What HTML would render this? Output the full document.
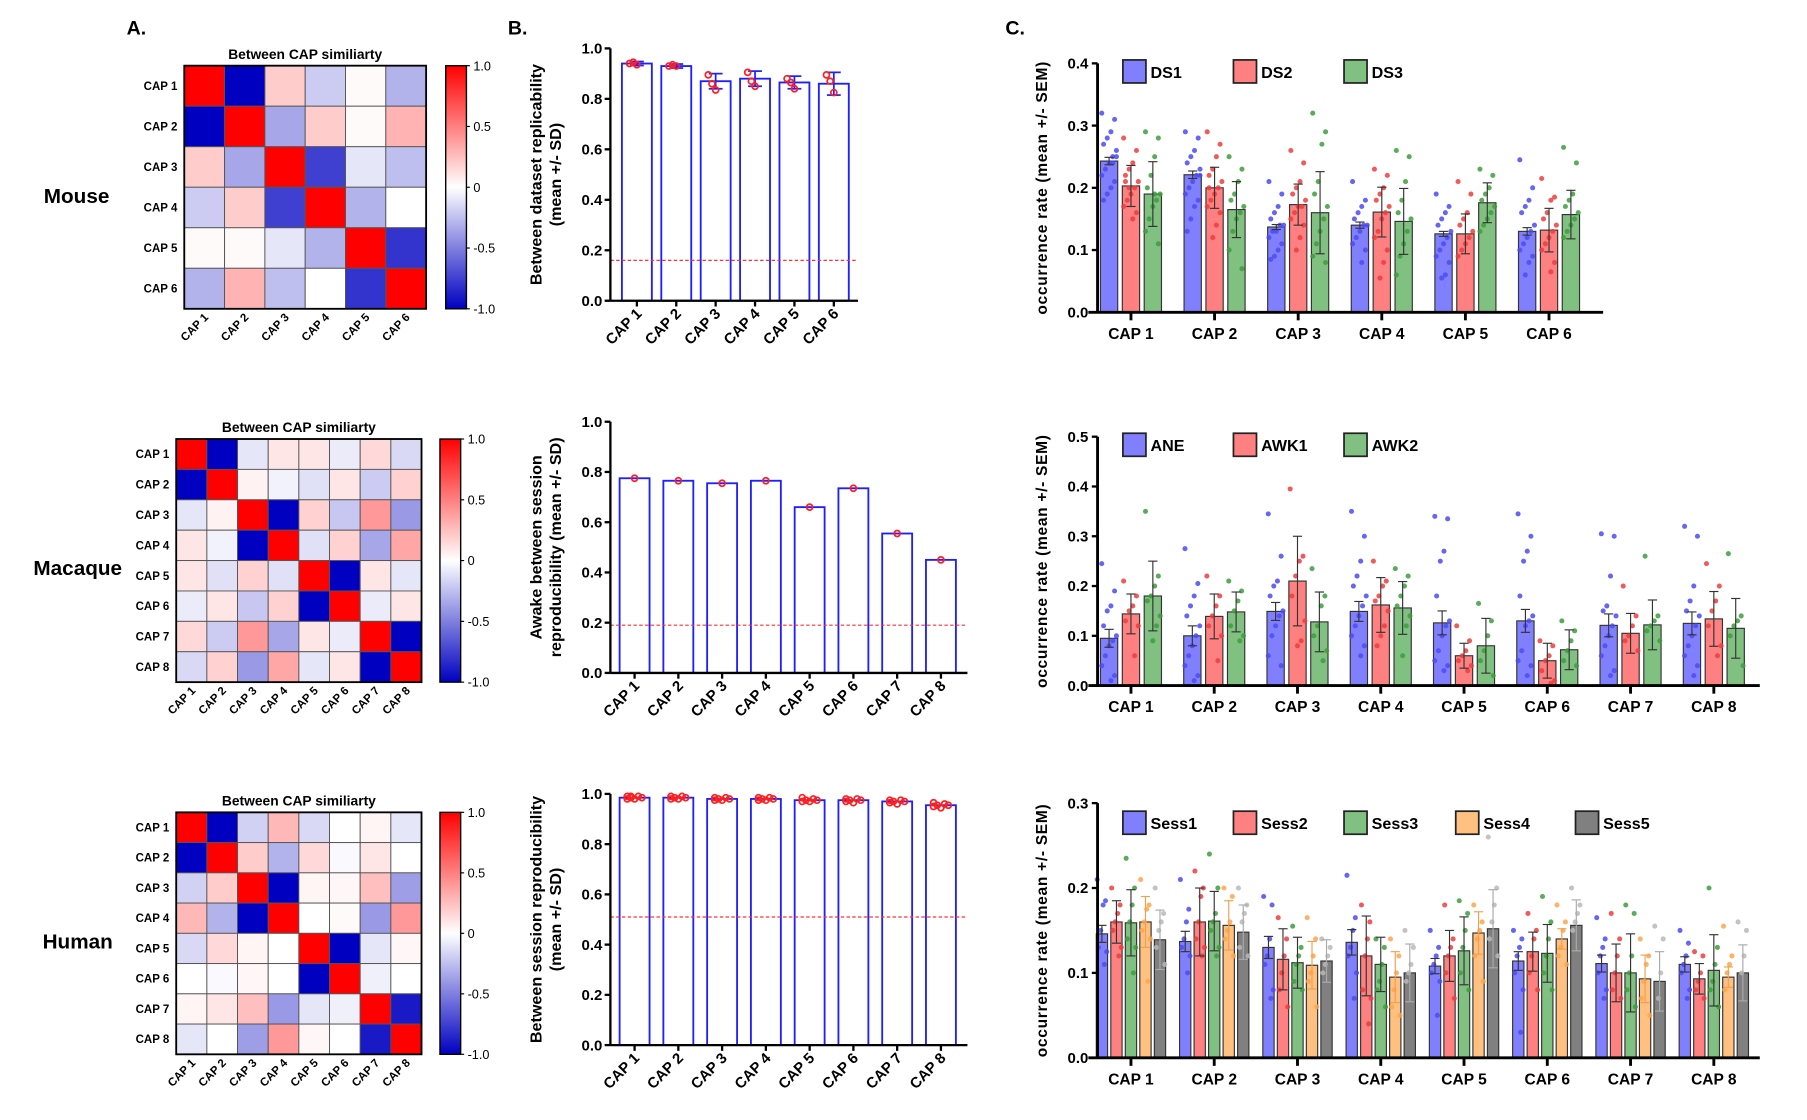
<!DOCTYPE html>
<html><head><meta charset="utf-8"><style>
html,body{margin:0;padding:0;background:#fff;}
svg{display:block;font-family:"Liberation Sans",Arial,sans-serif;font-weight:bold;}
</style></head><body>
<svg id="fig" width="1807" height="1120" viewBox="0 0 1569 972" preserveAspectRatio="none" xmlns="http://www.w3.org/2000/svg">
<text x="110" y="30" font-size="17">A.</text>
<text x="441" y="30" font-size="17">B.</text>
<text x="873" y="30" font-size="17">C.</text>
<text x="38" y="176" font-size="18">Mouse</text>
<text x="29" y="499" font-size="18">Macaque</text>
<text x="37" y="823" font-size="18">Human</text>
</svg>
<script>
// ---------- Heatmap data ----------
const capLabels6 = ["CAP 1","CAP 2","CAP 3","CAP 4","CAP 5","CAP 6"];
const capLabels8 = ["CAP 1","CAP 2","CAP 3","CAP 4","CAP 5","CAP 6","CAP 7","CAP 8"];
const mouseSim = [
 [1,-1,0.2,-0.2,0.02,-0.3],
 [-1,1,-0.35,0.2,0.02,0.3],
 [0.2,-0.35,1,-0.75,-0.1,-0.25],
 [-0.2,0.2,-0.75,1,-0.3,0],
 [0.02,0.02,-0.1,-0.3,1,-0.8],
 [-0.3,0.3,-0.25,0,-0.8,1]];
const macaqueSim = [
 [1,-1,-0.1,0.1,0.1,-0.08,0.15,-0.15],
 [-1,1,0.05,-0.05,-0.12,0.1,-0.2,0.18],
 [-0.1,0.05,1,-1,0.18,-0.22,0.4,-0.4],
 [0.1,-0.05,-1,1,-0.12,0.18,-0.35,0.35],
 [0.1,-0.12,0.18,-0.12,1,-1,0.1,-0.1],
 [-0.08,0.1,-0.22,0.18,-1,1,-0.08,0.1],
 [0.15,-0.2,0.4,-0.35,0.1,-0.08,1,-1],
 [-0.15,0.18,-0.4,0.35,-0.1,0.1,-1,1]];
const humanSim = [
 [1,-1,-0.18,0.28,-0.15,0,0.04,-0.1],
 [-1,1,0.2,-0.3,0.15,-0.02,0.1,0],
 [-0.18,0.2,1,-1,0.04,0.03,0.25,-0.38],
 [0.28,-0.3,-1,1,0,0.02,-0.4,0.4],
 [-0.15,0.15,0.04,0,1,-1,-0.1,0.03],
 [0,-0.02,0.03,0,-1,1,-0.06,0],
 [0.04,0.1,0.25,-0.4,-0.1,-0.06,1,-0.9],
 [-0.1,0,-0.38,0.4,0.03,0,-0.9,1]];
const cbTicks = [1,0.5,0,-0.5,-1];
const cbTickLabels = ["1.0","0.5","0","-0.5","-1.0"];

// ---------- Panel B data ----------
const bRow1Vals = [0.94,0.93,0.87,0.88,0.865,0.86];
const bRow1Sd = [0.008,0.008,0.03,0.03,0.025,0.045];
const bRow1Pts = [[0.94,0.945,0.935],[0.93,0.935,0.93],[0.895,0.86,0.835],[0.905,0.87,0.85],[0.88,0.865,0.84],[0.895,0.87,0.825]];
const bRow1Ref = 0.16;
const bRow2Vals = [0.775,0.765,0.755,0.765,0.66,0.735,0.555,0.45];
const bRow2Pts = [[0.775],[0.765],[0.755],[0.765],[0.66],[0.735],[0.555],[0.45]];
const bRow2Ref = 0.19;
const bRow3Vals = [0.985,0.985,0.98,0.98,0.975,0.975,0.97,0.955];
const bRow3Pts = [[0.99,0.985,0.98,0.99,0.985,0.98,0.99],[0.99,0.985,0.98,0.99,0.985,0.98],[0.985,0.98,0.975,0.985,0.98,0.975],[0.985,0.98,0.975,0.985,0.98,0.975],[0.985,0.975,0.97,0.98,0.975,0.97],[0.98,0.975,0.965,0.98,0.975,0.97],[0.975,0.97,0.96,0.975,0.97,0.965],[0.965,0.955,0.945,0.96,0.955,0.95]];
const bRow3Ref = 0.51;
const bTicks = [0,0.2,0.4,0.6,0.8,1.0];
const bTickLabels = ["0.0","0.2","0.4","0.6","0.8","1.0"];

// ---------- Panel C data ----------
const c1Series = ["DS1","DS2","DS3"];
const c1Means = [[0.243,0.221,0.137,0.14,0.126,0.13],[0.203,0.2,0.173,0.161,0.126,0.132],[0.19,0.165,0.16,0.146,0.176,0.157]];
const c1Err = [[0.006,0.006,0.004,0.005,0.004,0.006],[0.033,0.033,0.033,0.04,0.032,0.035],[0.052,0.045,0.066,0.053,0.032,0.039]];
const c1Dots = [
 [[0.32,0.31,0.29,0.28,0.27,0.26,0.25,0.24,0.23,0.22,0.21,0.2,0.19,0.18,0.25,0.24],[0.29,0.28,0.26,0.25,0.24,0.23,0.22,0.21,0.2,0.19,0.18,0.17,0.15,0.13,0.22],[0.21,0.19,0.17,0.16,0.15,0.14,0.14,0.13,0.13,0.12,0.11,0.1,0.09,0.085],[0.21,0.18,0.17,0.16,0.15,0.14,0.14,0.13,0.12,0.11,0.1,0.08],[0.19,0.17,0.16,0.15,0.14,0.13,0.12,0.11,0.1,0.09,0.08,0.06,0.055],[0.245,0.2,0.18,0.17,0.16,0.14,0.13,0.12,0.11,0.1,0.09,0.08,0.06]],
 [[0.28,0.26,0.24,0.23,0.22,0.21,0.2,0.19,0.18,0.17,0.16,0.15,0.2,0.21],[0.29,0.27,0.25,0.23,0.22,0.21,0.2,0.19,0.18,0.17,0.16,0.14,0.12,0.2],[0.26,0.24,0.21,0.2,0.19,0.18,0.17,0.17,0.16,0.15,0.14,0.12,0.1],[0.23,0.22,0.2,0.19,0.18,0.17,0.16,0.15,0.13,0.12,0.1,0.08,0.055],[0.21,0.19,0.16,0.15,0.14,0.13,0.12,0.11,0.1,0.09],[0.215,0.185,0.18,0.16,0.15,0.14,0.13,0.12,0.11,0.1,0.08,0.065]],
 [[0.29,0.28,0.25,0.22,0.2,0.19,0.18,0.17,0.15,0.13,0.11,0.19],[0.25,0.23,0.21,0.19,0.18,0.17,0.16,0.15,0.13,0.1,0.07],[0.32,0.29,0.27,0.21,0.19,0.17,0.15,0.13,0.11,0.09,0.08],[0.26,0.25,0.21,0.18,0.16,0.15,0.13,0.11,0.09,0.06],[0.23,0.22,0.2,0.19,0.18,0.17,0.16,0.15,0.14,0.13],[0.265,0.24,0.19,0.18,0.17,0.16,0.15,0.14,0.13,0.12]]];
const c1Ticks = [0,0.1,0.2,0.3,0.4];
const c1TickLabels = ["0.0","0.1","0.2","0.3","0.4"];

const c2Series = ["ANE","AWK1","AWK2"];
const c2Means = [[0.095,0.1,0.149,0.149,0.126,0.13,0.121,0.125],[0.144,0.139,0.21,0.162,0.06,0.05,0.105,0.134],[0.18,0.148,0.128,0.156,0.08,0.072,0.122,0.115]];
const c2Err = [[0.018,0.02,0.018,0.02,0.024,0.023,0.023,0.023],[0.04,0.045,0.09,0.055,0.025,0.035,0.04,0.055],[0.07,0.04,0.06,0.053,0.055,0.04,0.05,0.06]];
const c2Dots = [
 [[0.245,0.19,0.16,0.15,0.12,0.1,0.09,0.08,0.06,0.04,0.02,0.01],[0.275,0.205,0.18,0.16,0.14,0.12,0.1,0.08,0.06,0.04,0.02,0.01],[0.345,0.26,0.21,0.2,0.18,0.15,0.14,0.12,0.1,0.06,0.04],[0.35,0.3,0.25,0.22,0.2,0.18,0.16,0.14,0.12,0.1,0.08,0.06],[0.34,0.335,0.27,0.25,0.18,0.13,0.12,0.1,0.07,0.05,0.04,0.03],[0.345,0.3,0.27,0.25,0.18,0.14,0.13,0.12,0.07,0.05,0.04,0.02],[0.305,0.3,0.22,0.16,0.15,0.14,0.12,0.1,0.08,0.06,0.03,0.02],[0.32,0.3,0.2,0.17,0.15,0.14,0.12,0.1,0.08,0.06,0.04,0.02]],
 [[0.21,0.18,0.16,0.15,0.13,0.12,0.06],[0.22,0.18,0.16,0.14,0.12,0.1,0.05],[0.395,0.26,0.25,0.22,0.18,0.13,0.09,0.08],[0.25,0.21,0.2,0.18,0.17,0.15,0.12,0.1,0.08],[0.12,0.09,0.07,0.06,0.05,0.04,0.03],[0.09,0.08,0.06,0.05,0.03,0.01,0.005],[0.2,0.14,0.12,0.1,0.09,0.07],[0.245,0.2,0.17,0.15,0.12,0.08,0.06]],
 [[0.35,0.22,0.2,0.18,0.17,0.14,0.12,0.09],[0.21,0.19,0.17,0.15,0.12,0.1,0.09],[0.235,0.18,0.16,0.12,0.1,0.07,0.05],[0.235,0.22,0.2,0.18,0.16,0.14,0.12,0.06],[0.165,0.13,0.1,0.07,0.05,0.02],[0.13,0.11,0.09,0.07,0.05,0.04],[0.26,0.14,0.13,0.12,0.11,0.09],[0.265,0.14,0.13,0.12,0.1,0.04]]];
const c2Ticks = [0,0.1,0.2,0.3,0.4,0.5];
const c2TickLabels = ["0.0","0.1","0.2","0.3","0.4","0.5"];

const c3Series = ["Sess1","Sess2","Sess3","Sess4","Sess5"];
const c3Means = [[0.146,0.137,0.13,0.136,0.108,0.114,0.111,0.11],[0.16,0.16,0.116,0.12,0.12,0.125,0.1,0.093],[0.159,0.161,0.112,0.11,0.126,0.123,0.1,0.103],[0.16,0.156,0.109,0.095,0.147,0.14,0.093,0.095],[0.139,0.148,0.114,0.1,0.152,0.156,0.09,0.1]];
const c3Err = [[0.01,0.012,0.013,0.015,0.009,0.011,0.01,0.009],[0.025,0.04,0.036,0.047,0.03,0.023,0.034,0.018],[0.039,0.035,0.03,0.032,0.04,0.034,0.046,0.042],[0.03,0.029,0.028,0.03,0.025,0.012,0.028,0.012],[0.035,0.032,0.025,0.034,0.046,0.03,0.035,0.033]];
const c3Dots = [
 [[0.21,0.185,0.18,0.15,0.13,0.125,0.11],[0.21,0.175,0.16,0.14,0.13,0.12,0.1],[0.19,0.18,0.14,0.12,0.11,0.08,0.07],[0.215,0.165,0.15,0.13,0.12,0.1,0.07],[0.15,0.13,0.12,0.11,0.1,0.09,0.05],[0.15,0.14,0.13,0.12,0.1,0.08,0.03],[0.165,0.14,0.13,0.12,0.1,0.08,0.07],[0.15,0.135,0.12,0.11,0.1,0.08,0.07]],
 [[0.2,0.18,0.17,0.16,0.15,0.13,0.12],[0.22,0.2,0.19,0.16,0.14,0.13,0.12],[0.165,0.14,0.12,0.1,0.08,0.06],[0.18,0.16,0.14,0.12,0.08,0.07,0.04],[0.18,0.14,0.13,0.12,0.1,0.07],[0.17,0.15,0.14,0.12,0.1,0.08],[0.17,0.14,0.12,0.1,0.08,0.07],[0.125,0.12,0.1,0.09,0.08,0.07]],
 [[0.235,0.2,0.18,0.16,0.14,0.13,0.1],[0.24,0.2,0.17,0.16,0.15,0.13,0.12],[0.155,0.13,0.12,0.11,0.09,0.08],[0.14,0.13,0.11,0.09,0.08,0.06],[0.185,0.17,0.15,0.13,0.1,0.08],[0.19,0.16,0.14,0.12,0.1,0.08],[0.18,0.17,0.12,0.1,0.08,0.06],[0.2,0.13,0.11,0.09,0.08,0.06]],
 [[0.21,0.18,0.175,0.16,0.15,0.14,0.09],[0.2,0.19,0.16,0.15,0.14,0.12],[0.165,0.14,0.12,0.1,0.09,0.06],[0.14,0.12,0.1,0.08,0.06,0.05],[0.18,0.16,0.15,0.14,0.12,0.09],[0.18,0.16,0.15,0.13,0.12,0.11],[0.14,0.12,0.11,0.09,0.07,0.05],[0.155,0.12,0.11,0.1,0.08]],
 [[0.2,0.17,0.16,0.15,0.13,0.11],[0.2,0.18,0.17,0.16,0.13,0.12],[0.14,0.13,0.12,0.11,0.1],[0.15,0.13,0.11,0.1,0.09],[0.26,0.2,0.18,0.16,0.14,0.12],[0.2,0.18,0.17,0.16,0.15],[0.155,0.14,0.1,0.07],[0.16,0.15,0.12,0.1]]];
const c3Ticks = [0,0.1,0.2,0.3];
const c3TickLabels = ["0.0","0.1","0.2","0.3"];

const seriesFill = ["#8080ff","#ff8080","#80c080","#ffc080","#808080"];
const seriesDot = ["#4b4bf5","#f03c3c","#3c9e3c","#ffa44a","#b8b8b8"];

// ---------- helpers ----------
const NS = "http://www.w3.org/2000/svg";
const fig = document.getElementById("fig");
function mk(tag, attrs, parent){
  const e = document.createElementNS(NS, tag);
  for (const k in attrs) e.setAttribute(k, attrs[k]);
  (parent||fig).appendChild(e);
  return e;
}
function txt(x,y,s,size,anchor,parent){
  const t = mk("text",{x:x,y:y,"font-size":size,"text-anchor":anchor||"start"},parent);
  t.textContent = s;
  return t;
}
function simColor(v){
  if (v>=0){ const f=1-v; return `rgb(255,${Math.round(255*f)},${Math.round(255*f)})`; }
  const f=1+v; return `rgb(${Math.round(255*f)},${Math.round(255*f)},${Math.round(192+63*f)})`;
}

// ---------- Heatmap ----------
function heatmap(x0,y0,x1,y1,labels,mat,cbx,fs,name){
  const g = mk("g",{});
  
  
  const n = labels.length, cw=(x1-x0)/n, ch=(y1-y0)/n;
  const title = txt((x0+x1)/2, y0-6, "Between CAP similiarty", 12, "middle", g);
  
  
  for (let r=0;r<n;r++) for (let c=0;c<n;c++){
    const cell = mk("rect",{x:x0+c*cw,y:y0+r*ch,width:cw,height:ch,fill:simColor(mat[r][c]),stroke:"#555","stroke-width":0.8},g);
    
    
  }
  mk("rect",{x:x0,y:y0,width:x1-x0,height:y1-y0,fill:"none",stroke:"#000","stroke-width":1.6},g);
  for (let i=0;i<n;i++){
    const rl = txt(x0-6, y0+(i+0.5)*ch+3.5, labels[i], fs, "end", g);
    
    
    const cx = x0+(i+0.5)*cw+4, cy = y1+8;
    const cl = txt(cx, cy, labels[i], fs, "end", g);
    cl.setAttribute("transform", `rotate(-45 ${cx} ${cy})`);
    
    
  }
  const gid = "grad"+name;
  const defs = mk("defs",{},g);
  const lg = mk("linearGradient",{id:gid,x1:0,y1:0,x2:0,y2:1},defs);
  mk("stop",{offset:"0%","stop-color":simColor(1)},lg);
  mk("stop",{offset:"50%","stop-color":simColor(0)},lg);
  mk("stop",{offset:"100%","stop-color":simColor(-1)},lg);
  const cb = mk("rect",{x:cbx,y:y0,width:18,height:y1-y0,fill:`url(#${gid})`,stroke:"#000","stroke-width":1.2},g);
  
  
  cbTicks.forEach((v,i)=>{
    const y = y0+(1-v)/2*(y1-y0);
    mk("line",{x1:cbx+18,x2:cbx+21,y1:y,y2:y,stroke:"#000","stroke-width":1},g);
    const tl = txt(cbx+24, y+4, cbTickLabels[i], 11, "start", g);
    tl.setAttribute("font-weight","normal");
    
    
  });
}
heatmap(160,57,370,268,capLabels6,mouseSim,387,10,"mouse-heatmap");
heatmap(153,381,366,592,capLabels8,macaqueSim,382,10,"macaque-heatmap");
heatmap(153,705,366,915,capLabels8,humanSim,382,10,"human-heatmap");

// ---------- Panel B ----------
function chartB(yTop,yBot,x0,step,xEnd,vals,sd,pts,ref,ylab1,ylab2,name){
  const g = mk("g",{});
  
  
  const ax = 530;
  const ys = v => yBot - v*(yBot-yTop);
  const xs = i => x0 + i*step;
  const bw = 26;
  vals.forEach((v,i)=>{
    const b = mk("rect",{x:xs(i)-bw/2,y:ys(v),width:bw,height:ys(0)-ys(v),fill:"#fff",stroke:"#1f1fff","stroke-width":1.6},g);
    
    
    if (sd){
      const e1=ys(v+sd[i]), e2=ys(v-sd[i]);
      mk("line",{x1:xs(i),x2:xs(i),y1:e1,y2:e2,stroke:"#1f1fff","stroke-width":1.5},g);
      mk("line",{x1:xs(i)-6,x2:xs(i)+6,y1:e1,y2:e1,stroke:"#1f1fff","stroke-width":1.5},g);
      mk("line",{x1:xs(i)-6,x2:xs(i)+6,y1:e2,y2:e2,stroke:"#1f1fff","stroke-width":1.5},g);
    }
    pts[i].forEach((p,j)=>{
      const off = pts[i].length===1?0:((j%5)-2)*3.2;
      const d = mk("circle",{cx:xs(i)+off,cy:ys(p),r:2.6,fill:"none",stroke:"#ff1f1f","stroke-width":1.5},g);
      
      
    });
    const lx = xs(i)+5, ly = yBot+12;
    const l = txt(lx, ly, "CAP "+(i+1), 13, "end", g);
    l.setAttribute("transform", `rotate(-45 ${lx} ${ly})`);
    
    
  });
  const rl = mk("line",{x1:ax,x2:xEnd,y1:ys(ref),y2:ys(ref),stroke:"#ff3030","stroke-width":1,"stroke-dasharray":"3,2"},g);
  
  
  mk("line",{x1:ax,x2:ax,y1:yTop,y2:yBot,stroke:"#000","stroke-width":2},g);
  mk("line",{x1:ax,x2:xEnd,y1:yBot,y2:yBot,stroke:"#000","stroke-width":2},g);
  bTicks.forEach((v,i)=>{
    mk("line",{x1:ax-5,x2:ax,y1:ys(v),y2:ys(v),stroke:"#000","stroke-width":2},g);
    const t = txt(ax-7, ys(v)+4.5, bTickLabels[i], 13, "end", g);
    
    
  });
  vals.forEach((v,i)=>mk("line",{x1:xs(i),x2:xs(i),y1:yBot,y2:yBot+5,stroke:"#000","stroke-width":2},g));
  const cy = (yTop+yBot)/2;
  const t1 = txt(470, cy, ylab1, 14, "middle", g);
  t1.setAttribute("transform", `rotate(-90 470 ${cy})`);
  
  
  const t2 = txt(487, cy, ylab2, 14, "middle", g);
  t2.setAttribute("transform", `rotate(-90 487 ${cy})`);
  
  
}
chartB(42,261,553,34.2,745,bRow1Vals,bRow1Sd,bRow1Pts,bRow1Ref,"Between dataset replicability","(mean +/- SD)","mouse-replicability-chart");
chartB(366,584,551,38,840,bRow2Vals,null,bRow2Pts,bRow2Ref,"Awake between session","reproducibility (mean +/- SD)","macaque-reproducibility-chart");
chartB(689,907,551,38,840,bRow3Vals,null,bRow3Pts,bRow3Ref,"Between session reproducibility","(mean +/- SD)","human-reproducibility-chart");

// ---------- Panel C ----------
function chartC(yTop,yBot,maxV,step,xEnd,series,means,errs,dots,ticks,tickLabels,bStep,bw,legY,legX,name){
  const g = mk("g",{});
  
  
  const ax = 953, x0 = 982;
  const ys = v => yBot - v/maxV*(yBot-yTop);
  const xs = i => x0 + i*step;
  const ns = series.length, nc = means[0].length;
  for (let c=0;c<nc;c++){
    for (let s=0;s<ns;s++){
      const cx = xs(c) + (s-(ns-1)/2)*bStep, v = means[s][c];
      const b = mk("rect",{x:cx-bw/2,y:ys(v),width:bw,height:ys(0)-ys(v),fill:seriesFill[s],stroke:"#333","stroke-width":1},g);
      
      
      dots[s][c].forEach((p,j)=>{
        const off = (((j*7)%9)/8-0.5)*bw*0.85;
        const d = mk("circle",{cx:cx+off,cy:ys(p),r:2.2,fill:seriesDot[s],"fill-opacity":0.85},g);
        
        
      });
      const e1=ys(v+errs[s][c]), e2=ys(v-errs[s][c]);
      const ec = s===3?"#f0a050":(s===4?"#aaa":"#333");
      mk("line",{x1:cx,x2:cx,y1:e1,y2:e2,stroke:ec,"stroke-width":1},g);
      mk("line",{x1:cx-4,x2:cx+4,y1:e1,y2:e1,stroke:ec,"stroke-width":1},g);
      mk("line",{x1:cx-4,x2:cx+4,y1:e2,y2:e2,stroke:ec,"stroke-width":1},g);
    }
    mk("line",{x1:xs(c),x2:xs(c),y1:yBot,y2:yBot+7,stroke:"#000","stroke-width":2.5},g);
    const l = txt(xs(c), yBot+23, "CAP "+(c+1), 13.5, "middle", g);
    
    
  }
  mk("line",{x1:ax,x2:ax,y1:yTop,y2:yBot,stroke:"#000","stroke-width":2.5},g);
  mk("line",{x1:ax-8,x2:xEnd,y1:yBot,y2:yBot,stroke:"#000","stroke-width":2.5},g);
  ticks.forEach((v,i)=>{
    mk("line",{x1:ax-5,x2:ax,y1:ys(v),y2:ys(v),stroke:"#000","stroke-width":2},g);
    const t = txt(ax-8, ys(v)+4.5, tickLabels[i], 13, "end", g);
    
    
  });
  const cy=(yTop+yBot)/2;
  const yt = txt(909, cy, "occurrence rate (mean +/- SEM)", 13.5, "middle", g);
  yt.setAttribute("transform", `rotate(-90 909 ${cy})`);
  yt.setAttribute("letter-spacing","0.6");
  
  
  series.forEach((s,i)=>{
    const lb = mk("rect",{x:legX[i],y:legY,width:20,height:20,fill:seriesFill[i],stroke:"#222","stroke-width":1.5},g);
    
    
    const lt = txt(legX[i]+24, legY+15.5, s, 14, "start", g);
    
    
  });
}
chartC(55,271,0.4,72.6,1392,c1Series,c1Means,c1Err,c1Dots,c1Ticks,c1TickLabels,19,15,52,[975,1071,1167],"mouse-occurrence-chart");
chartC(379,595,0.5,72.3,1528,c2Series,c2Means,c2Err,c2Dots,c2Ticks,c2TickLabels,19,15,376,[975,1071,1167],"macaque-occurrence-chart");
chartC(697,918,0.3,72.3,1528,c3Series,c3Means,c3Err,c3Dots,c3Ticks,c3TickLabels,12.6,9.8,704,[975,1071,1167,1264,1368],"human-occurrence-chart");
</script>
</body></html>
